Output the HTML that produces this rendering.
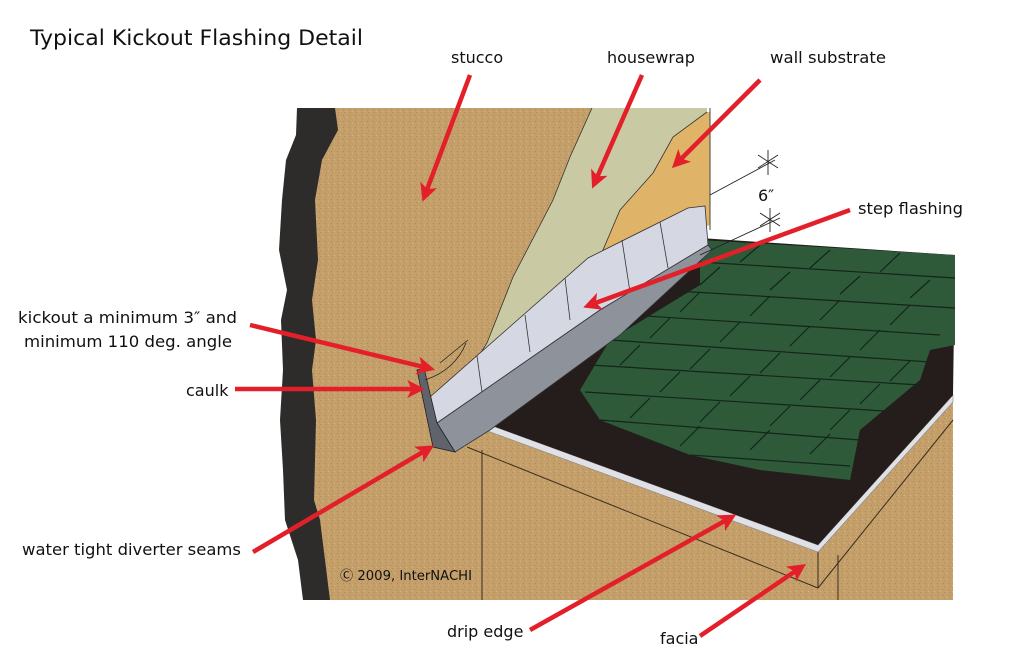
<!DOCTYPE html>
<html><head><meta charset="utf-8"><style>
html,body{margin:0;padding:0;background:#fff;}
svg{display:block;}
text{font-family:"DejaVu Sans","Liberation Sans",sans-serif;fill:#111;}
</style></head><body>
<svg width="1024" height="662" viewBox="0 0 1024 662" xmlns="http://www.w3.org/2000/svg">
<defs>
<marker id="ah" markerWidth="4" markerHeight="4" refX="2.4" refY="2" orient="auto" markerUnits="strokeWidth">
<path d="M0,0 L4,2 L0,4 L1,2 Z" fill="#e3202a"/>
</marker>
<pattern id="grain" width="6" height="6" patternUnits="userSpaceOnUse">
<rect width="6" height="6" fill="#c49f6a"/>
<rect x="1" y="1" width="1" height="1" fill="#a9895a"/>
<rect x="4" y="3" width="1" height="1" fill="#d8b888"/>
<rect x="2" y="4" width="1" height="1" fill="#b08e5e"/>
</pattern>
</defs>
<rect width="1024" height="662" fill="#fff"/>
<text x="30" y="45" font-size="21" textLength="333" lengthAdjust="spacingAndGlyphs">Typical Kickout Flashing Detail</text>

<!-- lower tan block (below roof) -->
<polygon points="330,420 953,255 953,600 305,600" fill="url(#grain)"/>
<!-- stucco wall -->
<polygon points="297,108 592,108 570,157 553,200 513,277 487,343 470,370 430,395 437,450 482,450 482,600 305,600" fill="url(#grain)"/>
<!-- black edge -->
<path d="M297,108 L335,108 L338,130 L322,160 L315,200 L318,260 L312,300 L316,340 L312,370 L316,420 L314,500 L320,520 L325,560 L330,600 L303,600 L298,560 L285,520 L283,470 L280,420 L283,370 L281,320 L287,290 L279,250 L282,200 L286,160 L296,135 Z" fill="#2e2b2b"/>
<!-- housewrap -->
<polygon points="592,108 707,108 707,112 673,137 653,173 620,210 600,257 470,370 487,343 513,277 553,200 570,157" fill="#c9caa3"/>
<path d="M592,108 570,157 553,200 513,277 487,343 470,370" fill="none" stroke="#333" stroke-width="0.8"/>
<!-- wall substrate -->
<polygon points="707,112 710,112 710,225 600,265 600,257 620,210 653,173 673,137" fill="#e0b468"/>
<path d="M707,112 673,137 653,173 620,210 600,257" fill="none" stroke="#333" stroke-width="0.8"/>
<line x1="710" y1="108" x2="710" y2="230" stroke="#444" stroke-width="1"/>

<!-- facia lines -->
<line x1="482" y1="450" x2="482" y2="600" stroke="#3a2e20" stroke-width="1"/>
<line x1="467" y1="447" x2="818" y2="588" stroke="#3a2e20" stroke-width="1"/>
<line x1="818" y1="548" x2="818" y2="588" stroke="#3a2e20" stroke-width="1"/>
<line x1="818" y1="588" x2="953" y2="420" stroke="#3a2e20" stroke-width="1"/>
<line x1="838" y1="555" x2="838" y2="600" stroke="#3a2e20" stroke-width="1"/>

<!-- drip edge & roof underlayment -->
<polygon points="485,430 818,552 953,402 953,395 818,545 490,425" fill="#dfe1e6" stroke="#888" stroke-width="0.6"/>
<polygon points="490,425 700,238 955,255 953,395 818,545" fill="#241d1b"/>
<!-- shingles -->
<polygon points="580,390 610,340 700,285 700,240 955,255 955,345 930,350 920,380 860,430 850,480 760,470 690,455 600,420" fill="#2e5a3a"/>
<g stroke="#14251a" stroke-width="1.2" fill="none">
<path d="M700,262 955,278"/><path d="M660,290 955,308"/><path d="M630,315 940,335"/><path d="M610,340 930,362"/>
<path d="M590,365 920,385"/><path d="M585,392 900,412"/><path d="M600,420 860,440"/><path d="M690,455 850,466"/>
<path d="M760,245 740,262 M830,250 810,268 M900,253 880,272 M720,267 700,285 M790,272 770,290 M860,276 840,294 M930,280 910,298"/>
<path d="M700,292 680,312 M770,296 750,316 M840,300 820,320 M910,305 890,325 M670,318 650,338 M740,322 720,342 M810,326 790,346 M880,330 860,350"/>
<path d="M640,345 620,365 M710,349 690,369 M780,353 760,373 M850,357 830,377 M910,361 890,381 M680,372 660,392 M750,376 730,396 M820,380 800,400 M880,384 860,404"/>
<path d="M650,398 630,418 M720,402 700,422 M790,406 770,426 M850,410 830,430 M700,426 680,446 M770,430 750,450 M830,434 810,454"/>
</g>

<!-- step flashing vertical face -->
<polygon points="430,397 588,258 688,208 705,206 708,245 600,310 437,423" fill="#d5d8e2" stroke="#333" stroke-width="0.8"/>
<g stroke="#333" stroke-width="0.8"><line x1="477" y1="356" x2="482" y2="392"/><line x1="525" y1="315" x2="530" y2="352"/><line x1="565" y1="278" x2="570" y2="320"/><line x1="622" y1="240" x2="630" y2="292"/><line x1="660" y1="222" x2="668" y2="268"/></g>
<!-- horizontal flashing -->
<polygon points="437,423 600,310 708,245 712,250 620,335 490,430 455,452" fill="#8e929b" stroke="#333" stroke-width="0.8"/>
<!-- kickout -->
<polygon points="417,370 424,368 437,423 455,452 433,447" fill="#5f636b" stroke="#222" stroke-width="0.8"/>
<path d="M425,380 Q455,370 466,343 M440,363 L468,340" fill="none" stroke="#222" stroke-width="0.8"/>
<!-- dimension -->
<g stroke="#222" stroke-width="0.9"><line x1="710" y1="195" x2="775" y2="160"/><line x1="700" y1="255" x2="780" y2="218"/><line x1="768" y1="150" x2="768" y2="175"/><line x1="758" y1="155" x2="778" y2="168"/><line x1="758" y1="168" x2="778" y2="155"/><line x1="770" y1="208" x2="770" y2="232"/><line x1="760" y1="213" x2="780" y2="226"/><line x1="760" y1="226" x2="780" y2="213"/></g>
<text x="758" y="201" font-size="16">6″</text>

<!-- arrows -->
<g stroke="#e3202a" stroke-width="4.5" fill="none" marker-end="url(#ah)">
<line x1="470" y1="75" x2="425" y2="195"/>
<line x1="642" y1="75" x2="595" y2="182"/>
<line x1="760" y1="80" x2="677" y2="163"/>
<line x1="850" y1="210" x2="590" y2="305"/>
<line x1="250" y1="325" x2="428" y2="368"/>
<line x1="235" y1="389" x2="418" y2="389"/>
<line x1="253" y1="552" x2="428" y2="449"/>
<line x1="530" y1="630" x2="730" y2="518"/>
<line x1="700" y1="636" x2="800" y2="568"/>
</g>

<text x="451" y="63" font-size="16">stucco</text>
<text x="607" y="63" font-size="16">housewrap</text>
<text x="770" y="63" font-size="16" textLength="116" lengthAdjust="spacingAndGlyphs">wall substrate</text>
<text x="858" y="214" font-size="16" textLength="105" lengthAdjust="spacingAndGlyphs">step flashing</text>
<text x="18" y="323" font-size="16" textLength="219" lengthAdjust="spacingAndGlyphs">kickout a minimum 3″ and</text>
<text x="24" y="347" font-size="16" textLength="208" lengthAdjust="spacingAndGlyphs">minimum 110 deg. angle</text>
<text x="186" y="396" font-size="16">caulk</text>
<text x="22" y="555" font-size="16" textLength="219" lengthAdjust="spacingAndGlyphs">water tight diverter seams</text>
<text x="340" y="580" font-size="13" textLength="132" lengthAdjust="spacingAndGlyphs">Ⓒ 2009, InterNACHI</text>
<text x="447" y="637" font-size="16">drip edge</text>
<text x="660" y="644" font-size="16">facia</text>
</svg>
</body></html>
